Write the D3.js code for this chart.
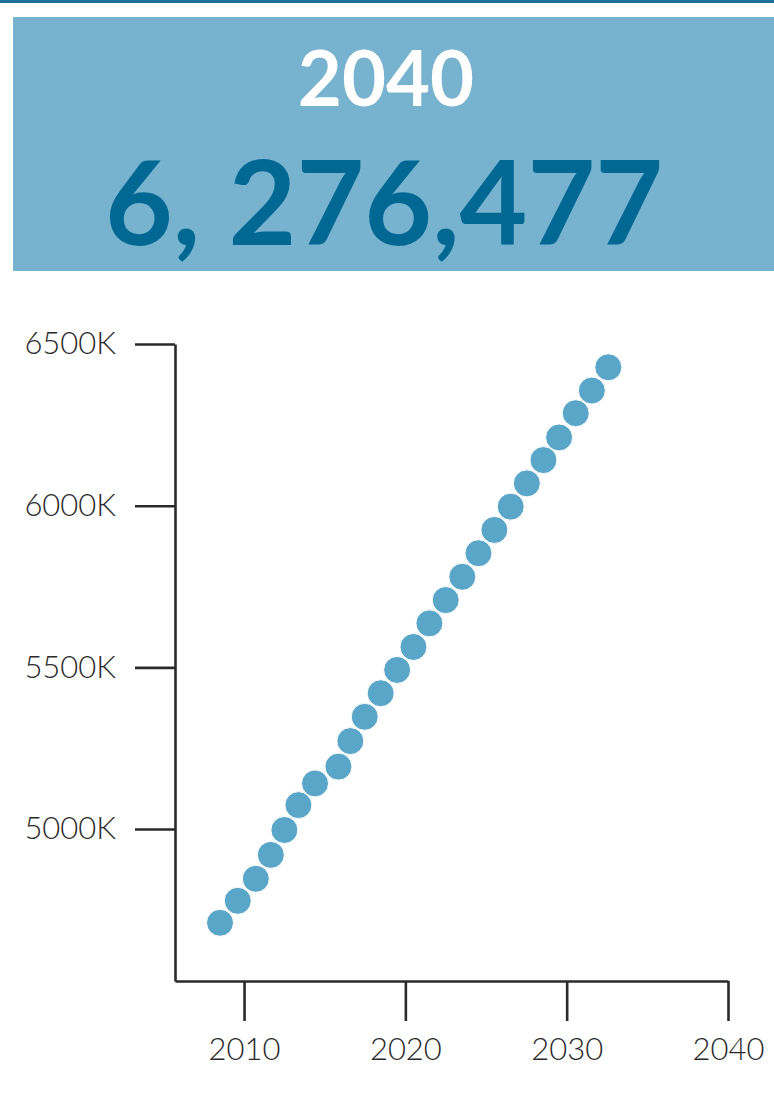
<!DOCTYPE html>
<html>
<head>
<meta charset="utf-8">
<script src="https://cdn.jsdelivr.net/npm/d3@7"></script>
<style>
  html, body { margin: 0; padding: 0; background: #fff; }
  svg { display: block; }
</style>
</head>
<body>
<div id="chart"></div>
<script>
// ---- data ----
const headlineYear = "2040";
const headlineValue = "6, 276,477";

// decimal year of each point
const years = [2008.51, 2009.61, 2010.73, 2011.66, 2012.50, 2013.37, 2014.40, 2015.85,
               2016.59, 2017.48, 2018.47, 2019.49, 2020.50, 2021.49, 2022.50, 2023.53,
               2024.53, 2025.52, 2026.53, 2027.53, 2028.56, 2029.53, 2030.56, 2031.56, 2032.58];
// population values
const population = [4710000, 4778000, 4846000, 4920000, 4997000, 5074000, 5141000, 5193000,
                    5272000, 5347000, 5420000, 5492000, 5563000, 5636000, 5708000, 5780000,
                    5853000, 5925000, 5997000, 6069000, 6141000, 6211000, 6286000, 6356000, 6428000];

const xTicks = [2010, 2020, 2030, 2040];
const yTicks = [5000000, 5500000, 6000000, 6500000];
const xDomain = [2005.72, 2040];
const yDomain = [4530000, 6500000];

// ---- layout ----
const W = 774, H = 1115;
const plot = { left: 175, right: 728, top: 344, bottom: 981 };

const svg = d3.select("#chart").append("svg")
  .attr("width", W).attr("height", H);

// top rule
svg.append("rect").attr("x", 0).attr("y", 0).attr("width", W).attr("height", 3)
  .attr("fill", "#1d6f98");

// header box
svg.append("rect").attr("x", 13).attr("y", 17).attr("width", W - 13).attr("height", 254)
  .attr("fill", "#77b2cf");

svg.append("text")
  .attr("x", 386).attr("y", 106)
  .attr("text-anchor", "middle")
  .attr("font-family", "Lato, 'Open Sans', sans-serif")
  .attr("font-weight", 700)
  .attr("font-size", 76)
  .attr("fill", "#ffffff")
  .text(headlineYear);

svg.append("text")
  .attr("x", 384).attr("y", 245)
  .attr("text-anchor", "middle")
  .attr("font-family", "Lato, 'Open Sans', sans-serif")
  .attr("font-weight", 700)
  .attr("font-size", 117)
  .attr("fill", "#006893")
  .text(headlineValue);

// ---- scales ----
const x = d3.scaleLinear().domain(xDomain).range([plot.left, plot.right]);
const y = d3.scaleLinear().domain(yDomain).range([plot.bottom, plot.top]);

const axisFont = "Lato, 'Open Sans', sans-serif";

// y axis
const gy = svg.append("g")
  .attr("transform", `translate(${plot.left},0)`)
  .call(d3.axisLeft(y).tickValues(yTicks).tickSize(40).tickSizeOuter(0).tickPadding(19)
    .tickFormat(d => (d / 1000) + "K"));

// x axis
const gx = svg.append("g")
  .attr("transform", `translate(0,${plot.bottom})`)
  .call(d3.axisBottom(x).tickValues(xTicks).tickSize(40).tickSizeOuter(0).tickPadding(17)
    .tickFormat(d3.format("d")));

[gx, gy].forEach(g => {
  g.select(".domain").attr("stroke", "#2a2a2a").attr("stroke-width", 2.6);
  g.selectAll(".tick line").attr("stroke", "#2a2a2a").attr("stroke-width", 2.6);
  g.selectAll(".tick text")
    .attr("font-family", axisFont)
    .attr("font-weight", 300)
    .attr("font-size", 31)
    .attr("fill", "#2a2a2a");
});

// points
const data = years.map((yr, i) => ({ year: yr, value: population[i] }));
svg.append("g").selectAll("circle")
  .data(data)
  .join("circle")
  .attr("cx", d => x(d.year))
  .attr("cy", d => y(d.value))
  .attr("r", 13.5)
  .attr("fill", "#5aa6c8")
  .attr("stroke", "#ffffff")
  .attr("stroke-width", 1);
</script>
</body>
</html>
